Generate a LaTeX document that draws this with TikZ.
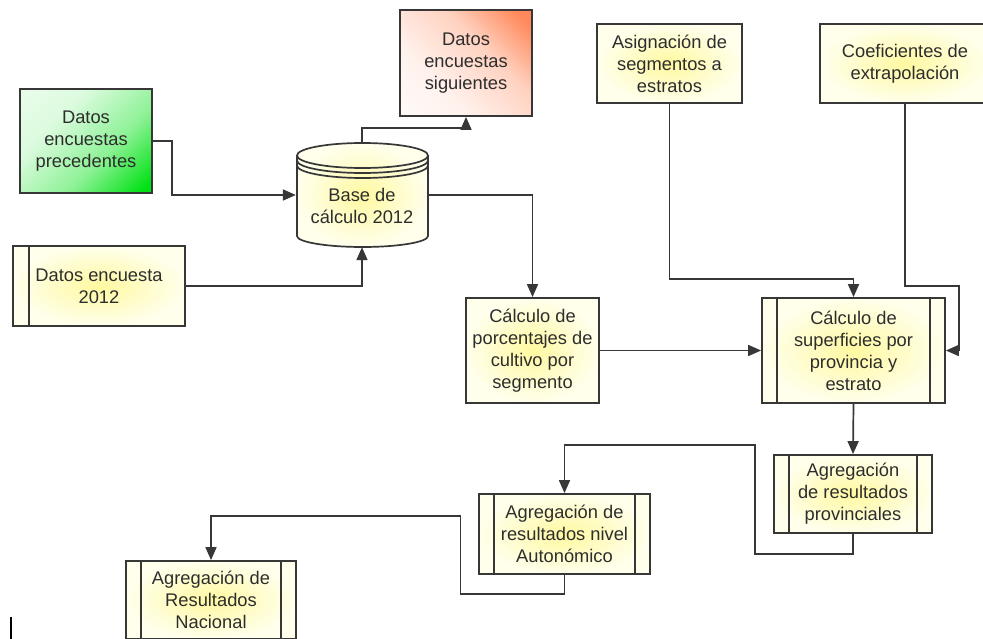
\documentclass[tikz,border=0pt]{standalone}
\usepackage{xcolor}
\usepackage{fontspec}
\setmainfont{Liberation Sans}
\usepackage{tikz}
\usetikzlibrary{shapes.geometric, arrows.meta, positioning, calc}
\definecolor{linegray}{RGB}{55, 55, 55}
\definecolor{textgray}{RGB}{45, 45, 45}
\definecolor{paleyellow}{RGB}{255, 255, 236}
\definecolor{glowyellow}{RGB}{255, 249, 160}
\definecolor{leafgreen}{RGB}{0, 225, 20}
\definecolor{salmon}{RGB}{255, 125, 75}
\pgfdeclareverticalshading{greencorner}{100bp}{color(0bp)=(leafgreen); color(18bp)=(leafgreen); color(40bp)=(leafgreen!45!white); color(65bp)=(leafgreen!14!white); color(100bp)=(leafgreen!4!white)}
\pgfdeclareverticalshading{salmoncorner}{100bp}{color(0bp)=(white); color(35bp)=(salmon!10!white); color(60bp)=(salmon!35!white); color(80bp)=(salmon!90!white); color(100bp)=(salmon)}
\tikzset{
    box/.style={draw=linegray, line width=1.8pt, inner sep=0pt, align=center,
        text=textgray, font=\fontsize{18.3}{22}\selectfont,
        inner color=glowyellow, outer color=paleyellow},
    subproc/.style={box},
    flow/.style={draw=linegray, line width=1.7pt, -{Triangle[length=13pt, width=11pt]}},
    link/.style={draw=linegray, line width=1.7pt}
}

\begin{document}
\begin{tikzpicture}[x=1pt, y=-1pt]
        \useasboundingbox (0,0) rectangle (983,639);
        \clip (0,0) rectangle (983,639);
        \fill[white] (0,0) rectangle (983,639);

        % input data
        \node[box, shading=greencorner, shading angle=45, minimum width=132pt, minimum height=104pt]
            (prec) at (86,141) {Datos\\encuestas\\precedentes};
        \node[box, shading=salmoncorner, shading angle=-45, minimum width=132pt, minimum height=106pt]
            (sig) at (466,63) {Datos\\encuestas\\siguientes};
        \node[subproc, minimum width=172pt, minimum height=80pt] (enc12) at (99,286) {Datos encuesta\\2012};
        \node[box, minimum width=145pt, minimum height=79pt] (asig) at (669.5,63.5) {Asignación de\\segmentos a\\estratos};
        \node[box, minimum width=170pt, minimum height=79pt] (coef) at (905,63.5) {Coeficientes de\\extrapolación};

        % data base (cylinder)
        \node[inner sep=0pt, minimum width=132pt, minimum height=104pt] (base) at (362,195) {};
        \shade[inner color=glowyellow, outer color=paleyellow] (297,155.5) -- (297,236) arc[start angle=180, end angle=360, x radius=65.5pt, y radius=11pt]
            -- (428,155.5) arc[start angle=0, end angle=180, x radius=65.5pt, y radius=12.5pt] -- cycle;
        \draw[link] (297,155.5) -- (297,236) arc[start angle=180, end angle=360, x radius=65.5pt, y radius=11pt] -- (428,155.5);
        \draw[link] (362.5,155.5) ellipse[x radius=65.5pt, y radius=12.5pt];
        \foreach \dy in {5,10} {
            \draw[link] (297,155.5+\dy) arc[start angle=180, end angle=360, x radius=65.5pt, y radius=12.5pt];
        }
        \node[text=textgray, align=center, font=\fontsize{18.3}{22}\selectfont] (basetxt) at (362,206) {Base de\\cálculo 2012};

        % processing
        \node[box, minimum width=133pt, minimum height=105pt] (porc) at (532.5,350.5) {Cálculo de\\porcentajes de\\cultivo por\\segmento};
        \node[subproc, minimum width=183pt, minimum height=105pt] (sup) at (853.5,350.5) {Cálculo de\\superficies por\\provincia y\\estrato};
        \node[subproc, minimum width=158pt, minimum height=78pt] (prov) at (853,494) {Agregación\\de resultados\\provinciales};
        \node[subproc, minimum width=171pt, minimum height=80pt] (auto) at (564.5,534) {Agregación de\\resultados nivel\\Autonómico};
        \node[subproc, minimum width=170pt, minimum height=78pt] (nac) at (211,600) {Agregación de\\Resultados\\Nacional};

        % side bars of the sub-process boxes
        \draw[link] ([xshift=17pt]enc12.north west) -- ([xshift=17pt]enc12.south west);
        \foreach \n in {sup,prov,auto,nac} {
            \draw[link] ([xshift=16pt]\n.north west) -- ([xshift=16pt]\n.south west);
            \draw[link] ([xshift=-16pt]\n.north east) -- ([xshift=-16pt]\n.south east);
        }

        % connectors
        \draw[flow] (prec.east) -- ++(19,0) |- (base.west);
        \draw[flow] (base.north) -- ++(0,-15) -| (sig.south);
        \draw[flow] (enc12.east) -| (base.south);
        \draw[flow] (base.east) -| (porc.north);
        \draw[flow] (asig.south) -- ++(0,175) -| (sup.north);
        \draw[flow] (coef.south) -- ++(0,182) -| ([xshift=13pt]sup.east) -- (sup.east);
        \draw[flow] (porc.east) -- (sup.west);
        \draw[flow] (sup.south) -- (prov.north);
        \draw[flow] (prov.south) -- ++(0,20) -- ++(-98,0) |- ([yshift=48pt]auto.north) -- (auto.north);
        \draw[flow] (auto.south) -- ++(0,19) -- ++(-104,0) |- ([yshift=44pt]nac.north) -- (nac.north);

        % text cursor
        \draw[line width=1.8pt] (11,617) -- (11,639);
    \end{tikzpicture}
\end{document}
